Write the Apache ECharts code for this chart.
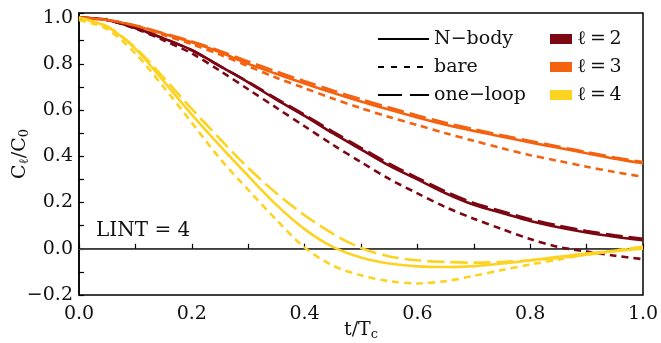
<!DOCTYPE html>
<html>
<head>
<meta charset="utf-8">
<script src="https://cdn.jsdelivr.net/npm/echarts@6/dist/echarts.min.js"></script>
<style>
  html, body { margin: 0; padding: 0; background: #fff; }
  #chart { width: 661px; height: 343px; }
</style>
</head>
<body>
<div id="chart"></div>
<script>
// t / T_c sample points
var tVals = [0, 0.05, 0.1, 0.15, 0.2, 0.25, 0.3, 0.35, 0.4, 0.45, 0.5,
             0.55, 0.6, 0.65, 0.7, 0.75, 0.8, 0.85, 0.9, 0.95, 1.0];

// l = 2
var l2Nbody = [1.0, 0.99, 0.955, 0.91, 0.86, 0.79, 0.72, 0.645, 0.575, 0.5, 0.43,
               0.36, 0.3, 0.24, 0.19, 0.155, 0.12, 0.093, 0.07, 0.052, 0.037];
var l2Bare  = [1.0, 0.99, 0.952, 0.902, 0.845, 0.77, 0.69, 0.61, 0.53, 0.45, 0.375,
               0.302, 0.24, 0.18, 0.13, 0.085, 0.042, 0.008, -0.012, -0.03, -0.045];
var l2Loop  = [1.0, 0.99, 0.955, 0.91, 0.858, 0.79, 0.722, 0.65, 0.58, 0.507, 0.437,
               0.368, 0.307, 0.248, 0.198, 0.162, 0.128, 0.1, 0.077, 0.058, 0.043];
// l = 3
var l3Nbody = [1.0, 0.99, 0.965, 0.93, 0.893, 0.85, 0.8, 0.757, 0.715, 0.675, 0.637,
               0.602, 0.568, 0.537, 0.51, 0.485, 0.46, 0.437, 0.413, 0.39, 0.37];
var l3Bare  = [1.0, 0.99, 0.963, 0.925, 0.885, 0.84, 0.79, 0.74, 0.695, 0.65, 0.608,
               0.57, 0.535, 0.5, 0.467, 0.435, 0.405, 0.38, 0.355, 0.332, 0.311];
var l3Loop  = [1.0, 0.99, 0.966, 0.932, 0.897, 0.856, 0.81, 0.767, 0.725, 0.685, 0.647,
               0.611, 0.577, 0.545, 0.517, 0.491, 0.466, 0.442, 0.418, 0.395, 0.375];
// l = 4
var l4Nbody = [1.0, 0.96, 0.865, 0.725, 0.58, 0.445, 0.315, 0.19, 0.085, 0.008, -0.038,
               -0.064, -0.076, -0.079, -0.075, -0.064, -0.05, -0.035, -0.021, -0.01, 0.0];
var l4Bare  = [0.99, 0.95, 0.845, 0.7, 0.545, 0.39, 0.255, 0.125, 0.005, -0.073, -0.115,
               -0.14, -0.15, -0.14, -0.117, -0.092, -0.068, -0.047, -0.025, -0.008, 0.008];
var l4Loop  = [1.0, 0.962, 0.87, 0.74, 0.605, 0.475, 0.35, 0.24, 0.145, 0.065, 0.003,
               -0.033, -0.05, -0.057, -0.06, -0.057, -0.05, -0.04, -0.026, -0.009, 0.01];

var colL2 = '#7d0613';
var colL3 = '#f5620f';
var colL4 = '#fdd322';
var dashShort = [7, 5];
var dashLong = [17, 6];
var font = 'DejaVu Serif';

function pts(arr) {
  return tVals.map(function (t, i) { return [t, arr[i]]; });
}

function curve(name, data, color, dash) {
  return {
    name: name,
    type: 'line',
    data: pts(data),
    symbol: 'none',
    smooth: 0.3,
    silent: true,
    lineStyle: { color: color, width: 2.6, type: dash },
    z: 3
  };
}

function dummy(name, color, dash) {
  return {
    name: name,
    type: 'line',
    data: [],
    symbol: 'none',
    color: color,
    lineStyle: { color: color, width: 2.4, type: dash }
  };
}

var chartDom = document.getElementById('chart');
var myChart = echarts.init(chartDom, null, { renderer: 'canvas' });

var series = [
  curve('l2 bare', l2Bare, colL2, dashShort),
  curve('l3 bare', l3Bare, colL3, dashShort),
  curve('l4 bare', l4Bare, colL4, dashShort),
  curve('l2 nbody', l2Nbody, colL2, 'solid'),
  curve('l3 nbody', l3Nbody, colL3, 'solid'),
  curve('l4 nbody', l4Nbody, colL4, 'solid'),
  curve('l2 loop', l2Loop, colL2, dashLong),
  curve('l3 loop', l3Loop, colL3, dashLong),
  curve('l4 loop', l4Loop, colL4, dashLong),
  dummy('N\u2212body', '#000', 'solid'),
  dummy('bare', '#000', [6, 7]),
  dummy('one\u2212loop', '#000', [24, 8]),
  dummy('\u2113\u2009=\u20092', colL2, 'solid'),
  dummy('\u2113\u2009=\u20093', colL3, 'solid'),
  dummy('\u2113\u2009=\u20094', colL4, 'solid')
];

// zero line
series[3].markLine = {
  silent: true,
  symbol: 'none',
  label: { show: false },
  lineStyle: { color: '#555', width: 1.2, type: 'solid' },
  data: [{ yAxis: 0 }],
  z: 1
};

var legendText = { fontFamily: font, fontSize: 19, color: '#111', lineHeight: 20 };

var option = {
  animation: false,
  backgroundColor: '#fff',
  grid: {
    left: 79, right: 18, top: 13, bottom: 48,
    outerBoundsMode: 'none',
    containLabel: false,
    show: true, borderColor: '#000', borderWidth: 1.5
  },
  legend: [
    {
      orient: 'vertical',
      left: 377, top: 29, padding: 0,
      itemWidth: 51, itemHeight: 14, itemGap: 8,
      data: ['N\u2212body', 'bare', 'one\u2212loop'],
      itemStyle: { color: 'rgba(0,0,0,0)', borderWidth: 0, opacity: 0 },
      textStyle: legendText
    },
    {
      orient: 'vertical',
      left: 550, top: 29, padding: 0,
      icon: 'rect',
      itemWidth: 22, itemHeight: 10, itemGap: 8,
      data: ['\u2113\u2009=\u20092', '\u2113\u2009=\u20093', '\u2113\u2009=\u20094'],
      textStyle: legendText
    }
  ],
  xAxis: {
    type: 'value',
    min: 0, max: 1, interval: 0.1,
    name: 't/T{s|c}',
    nameLocation: 'middle',
    nameGap: 24,
    nameMoveOverlap: false,
    nameTextStyle: {
      fontFamily: font, fontSize: 19, color: '#111',
      rich: { s: { fontFamily: font, fontSize: 13, color: '#111', padding: [9, 0, 0, 0] } }
    },
    axisLine: { lineStyle: { color: '#000', width: 1.5 } },
    axisTick: { inside: true, length: 5, lineStyle: { color: '#000', width: 1.2 } },
    axisLabel: {
      margin: 10, fontFamily: font, fontSize: 19, color: '#111',
      formatter: function (v) {
        return Math.round(v * 10) % 2 === 0 ? v.toFixed(1) : '';
      }
    },
    splitLine: { show: false }
  },
  yAxis: {
    type: 'value',
    min: -0.2, max: 1.02, interval: 0.1,
    name: 'C{s|\u2113}/C{s|0}',
    nameLocation: 'middle',
    nameGap: 48,
    nameMoveOverlap: false,
    nameTextStyle: {
      fontFamily: font, fontSize: 19, color: '#111',
      rich: { s: { fontFamily: font, fontSize: 13, color: '#111', padding: [9, 0, 0, 0] } }
    },
    axisLine: { show: true, lineStyle: { color: '#000', width: 1.5 } },
    axisTick: { show: true, inside: true, length: 5, lineStyle: { color: '#000', width: 1.2 } },
    axisLabel: {
      margin: 6, fontFamily: font, fontSize: 19, color: '#111',
      formatter: function (v) {
        var k = Math.round(v * 10);
        if (Math.abs(v * 10 - k) > 1e-6 || k % 2 !== 0) return '';
        return (k < 0 ? '\u2212' : '') + Math.abs(v).toFixed(1);
      }
    },
    splitLine: { show: false }
  },
  graphic: [
    {
      type: 'text',
      left: 96, top: 221,
      style: { text: 'LINT = 4', font: '20px "DejaVu Serif"', fill: '#111' }
    }
  ],
  series: series
};

option && myChart.setOption(option);
</script>
</body>
</html>
